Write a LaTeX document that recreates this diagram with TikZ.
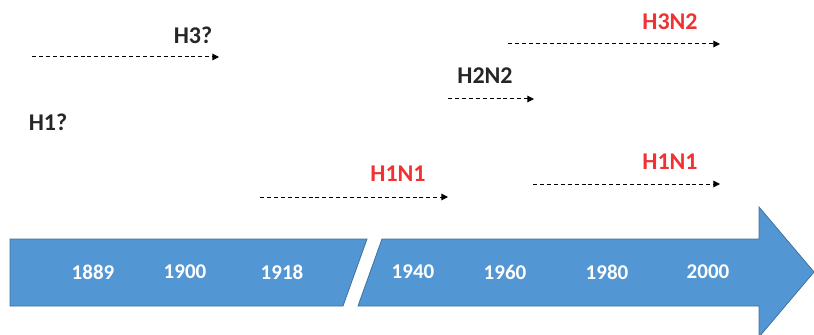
\documentclass[tikz,border=0pt]{standalone}
\usepackage{fontspec}
\setmainfont{Carlito}
\usetikzlibrary{arrows.meta}
\definecolor{bandblue}{HTML}{5296D3}
\definecolor{bandedge}{HTML}{41719C}
\definecolor{labred}{HTML}{F03232}
\definecolor{labdark}{HTML}{262626}
\tikzset{
  year/.style={text=white,font=\bfseries\fontsize{15.75}{18}\selectfont,inner sep=0pt},
  lab/.style={font=\bfseries\fontsize{18}{21}\selectfont,inner sep=0pt},
  labk/.style={lab,text=labdark},
  labr/.style={lab,text=labred},
  span/.style={draw=black,line width=0.75pt,dash pattern=on 3pt off 2.2pt,-{Triangle[length=5pt,width=5pt]}},
  band/.style={fill=bandblue,draw=bandedge,line width=0.6pt}
}
\begin{document}
\begin{tikzpicture}[x=0.75pt,y=-0.75pt]
\useasboundingbox (0,0) rectangle (814,335);
\begin{scope}
\clip (0,0) rectangle (814,335);
\draw[band] (10,239) -- (367,239) -- (343,306) -- (10,306) -- cycle;
\draw[band] (382,239) -- (759,239) -- (759,207) -- (814,272) -- (759,337) -- (759,306) -- (358,306) -- cycle;
\end{scope}
% years
\node[year] (y1889) at (93,272) {1889};
\node[year] (y1900) at (185,272) {1900};
\node[year] (y1918) at (282,272) {1918};
\node[year] (y1940) at (413,272) {1940};
\node[year] (y1960) at (505,272) {1960};
\node[year] (y1980) at (607,272) {1980};
\node[year] (y2000) at (708,272) {2000};
% labels
\node[labk] (h3q) at (193,35) {H3?};
\node[labk] (h1q) at (48,122) {H1?};
\node[labr] (h3n2) at (670,22) {H3N2};
\node[labk] (h2n2) at (485,76) {H2N2};
\node[labr] (h1n1r) at (670,162) {H1N1};
\node[labr] (h1n1l) at (398,174) {H1N1};
% spans
\coordinate (a1s) at (32,57);  \coordinate (a1e) at (219,57);
\coordinate (a2s) at (508,44); \coordinate (a2e) at (720,44);
\coordinate (a3s) at (448,99); \coordinate (a3e) at (534,99);
\coordinate (a4s) at (533,184); \coordinate (a4e) at (720,184);
\coordinate (a5s) at (260,197); \coordinate (a5e) at (448,197);
\draw[span] (a1s) -- (a1e);
\draw[span] (a2s) -- (a2e);
\draw[span] (a3s) -- (a3e);
\draw[span] (a4s) -- (a4e);
\draw[span] (a5s) -- (a5e);
\end{tikzpicture}
\end{document}
